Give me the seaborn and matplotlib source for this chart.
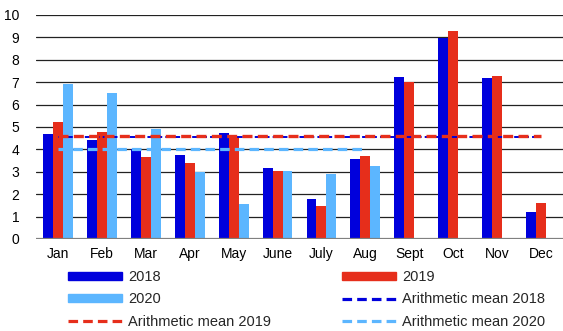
import numpy as np
import pandas as pd
import matplotlib
matplotlib.use("Agg")
import matplotlib.pyplot as plt
import seaborn as sns
from matplotlib.patches import Patch
from matplotlib.lines import Line2D

months = ['Jan', 'Feb', 'Mar', 'Apr', 'May', 'June', 'July', 'Aug', 'Sept', 'Oct', 'Nov', 'Dec']
vals_2018 = [4.69, 4.40, 4.04, 3.77, 4.71, 3.16, 1.80, 3.56, 7.23, 8.96, 7.18, 1.19]
vals_2019 = [5.22, 4.77, 3.64, 3.40, 4.56, 3.04, 1.49, 3.71, 7.00, 9.27, 7.26, 1.59]
vals_2020 = [6.93, 6.50, 4.92, 3.01, 1.58, 3.04, 2.89, 3.26, np.nan, np.nan, np.nan, np.nan]
years = ['2018', '2019', '2020']
colors = {'2018': '#0000DC', '2019': '#E62E1B', '2020': '#5CB6FF'}

df = pd.DataFrame({
    'month': months * 3,
    'year': ['2018'] * 12 + ['2019'] * 12 + ['2020'] * 12,
    'value': vals_2018 + vals_2019 + vals_2020,
}).dropna()

# arithmetic means of each year (2020 only has Jan-Aug)
mean_2018 = np.nanmean(vals_2018)
mean_2019 = np.nanmean(vals_2019)
mean_2020 = np.nanmean(vals_2020)

sns.set_style("white")
plt.rcParams['font.family'] = ['Liberation Sans', 'DejaVu Sans']

fig = plt.figure(figsize=(5.63, 3.31), dpi=100)
ax = fig.add_axes([36 / 563, 1 - 239 / 331, 527 / 563, 224 / 331])

for y in range(1, 11):
    ax.axhline(y, color='#222222', lw=0.9, zorder=0)
ax.axhline(0, color='#808080', lw=1.6, zorder=3)

sns.barplot(data=df, x='month', y='value', hue='year', order=months, hue_order=years,
            palette=colors, width=0.68, gap=0, saturation=1, errorbar=None,
            edgecolor='none', linewidth=0, legend=False, ax=ax, zorder=2)

dash = (0, (3, 1.6))
ax.hlines(mean_2018, 0, 11, color=colors['2018'], lw=1.4, linestyle=dash, zorder=4)
ax.hlines(mean_2019, 0, 11, color=colors['2019'], lw=2.4, linestyle=dash, zorder=5)
ax.hlines(mean_2020, 0, 7, color=colors['2020'], lw=2.3, linestyle=dash, zorder=5)

ax.set_xlim(-0.5, 11.5)
ax.set_ylim(0, 10)
ax.set_yticks(range(0, 11))
ax.set_xlabel('')
ax.set_ylabel('')
ax.tick_params(axis='both', length=0, labelsize=10, colors='black')
ax.tick_params(axis='y', pad=12)
ax.tick_params(axis='x', pad=6)
sns.despine(ax=ax, left=True, bottom=True)

handles = [
    Patch(color=colors['2018'], label='2018'),
    Patch(color=colors['2020'], label='2020'),
    Line2D([], [], color=colors['2019'], lw=2.3, linestyle=dash, label='Arithmetic mean 2019'),
    Patch(color=colors['2019'], label='2019'),
    Line2D([], [], color=colors['2018'], lw=2.3, linestyle=dash, label='Arithmetic mean 2018'),
    Line2D([], [], color=colors['2020'], lw=2.3, linestyle=dash, label='Arithmetic mean 2020'),
]
fig.legend(handles=handles, ncol=2, loc='upper left', bbox_to_anchor=(68 / 563, 1 - 270 / 331),
           frameon=False, fontsize=10.5, handlelength=3.7, handleheight=0.5, handletextpad=0.4,
           columnspacing=4.9, labelspacing=0.58, borderaxespad=0, borderpad=0)

fig.savefig('out.png', dpi=100)
